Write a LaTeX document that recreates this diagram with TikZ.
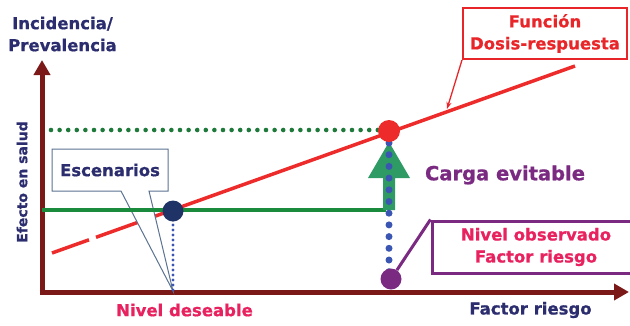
\documentclass[tikz,border=0pt]{standalone}
\usepackage{fontspec}
\setmainfont{DejaVu Sans}[BoldFeatures={FakeBold=0.8}]
\usetikzlibrary{arrows.meta,calc}

\definecolor{axisred}{HTML}{7B1818}
\definecolor{navytext}{HTML}{2B2D6E}
\definecolor{curvered}{HTML}{EE2B2B}
\definecolor{boxred}{HTML}{E8262A}
\definecolor{pinktext}{HTML}{E8215F}
\definecolor{plum}{HTML}{7B2A82}
\definecolor{levelgreen}{HTML}{1A8A3C}
\definecolor{dotgreen}{HTML}{1E7A3A}
\definecolor{arrowgreen}{HTML}{2E9A64}
\definecolor{dotblue}{HTML}{3B56B2}
\definecolor{markernavy}{HTML}{1F3366}
\definecolor{calloutedge}{HTML}{5B7391}

\tikzset{
  axisline/.style={draw=axisred, line width=5pt,
    -{Triangle[length=15pt,width=16pt]}},
  curve/.style={draw=curvered, line width=3.5pt},
  level/.style={draw=levelgreen, line width=4.5pt},
  greendots/.style={draw=dotgreen, line width=4.6pt, line cap=round,
    dash pattern=on 0pt off 8.6pt},
  bigdots/.style={draw=dotblue, line width=7pt, line cap=round,
    dash pattern=on 0pt off 11.7pt},
  smalldots/.style={draw=dotblue, line width=3.2pt, line cap=round,
    dash pattern=on 0pt off 5pt},
  marker/.style={circle, inner sep=0pt, minimum size=#1},
  label/.style={font=\bfseries\fontsize{16.5}{22}\selectfont, inner sep=0pt, align=center},
  callout/.style={draw=calloutedge, line width=1pt, fill=white},
}

\begin{document}
\begin{tikzpicture}[x=1pt, y=-1pt]
\useasboundingbox (0,0) rectangle (630,325);

% axes
\coordinate (origin) at (42,294.5);
\coordinate (ytip) at (42,60);
\coordinate (xstart) at (39.5,292);
\coordinate (xtip) at (629,292);
\draw[axisline] (origin) -- (ytip);
\draw[axisline] (xstart) -- (xtip);

% dose-response curve (dashed at its start)
\coordinate (c0) at (52,253);
\coordinate (c1) at (89,239.8);
\coordinate (c2) at (96,237.3);
\coordinate (c3) at (575,66);
\draw[curve] (c0) -- (c1);
\draw[curve] (c2) -- (c3);

% "Escenarios" callout
\coordinate (escTip) at (173,291);
\path[callout] (52,149) -- (168,149) -- (168,191) -- (149,191) -- (escTip)
  -- (121,191) -- (52,191) -- cycle;
\node[label, text=navytext] (esc) at (110,170) {Escenarios};

% desirable level and observed level
\coordinate (l0) at (42,210);
\coordinate (l1) at (386,210);
\draw[level] (l0) -- (l1);
\coordinate (g0) at (51,130);
\coordinate (g1) at (384,130);
\draw[greendots] (g0) -- (g1);

% avoidable burden arrow
\fill[arrowgreen] (383,210) -- (383,178) -- (368,178) -- (389,142)
  -- (410,178) -- (395,178) -- (395,210) -- cycle;

% projections to the risk-factor axis
\coordinate (b0) at (389,143);
\coordinate (b1) at (389,272);
\draw[bigdots] (b0) -- (b1);
\coordinate (s0) at (173,215);
\coordinate (s1) at (173,290);
\draw[smalldots] (s0) -- (s1);

% markers
\node[marker=21pt, fill=markernavy] (nc) at (173,211) {};
\node[marker=22pt, fill=curvered] (rc) at (389,131) {};
\node[marker=21pt, fill=plum] (pc) at (391,279) {};

% dose-response label box
\node[label, text=boxred, draw=boxred, line width=2pt,
  minimum width=164pt, minimum height=51pt] (fb) at (545,33.5)
  {Función\\Dosis-respuesta};
\coordinate (fTip) at (447,109);
\draw[draw=boxred, line width=1.3pt, -{Stealth[length=7pt,width=5pt]}]
  (fb.south west) -- (fTip);

% observed level label box
\node[label, text=pinktext, draw=plum, line width=3pt,
  minimum width=208pt, minimum height=52pt] (obs) at (536,247)
  {Nivel observado\\Factor riesgo};
\draw[draw=plum, line width=3pt] (obs.north west) -- (pc);

% axis and annotation texts
\node[label, text=navytext] (yl) at (62.5,34) {Incidencia/\\Prevalencia};
\node[label, text=navytext, font=\bfseries\fontsize{14}{16}\selectfont,
  rotate=90] (ys) at (22,182) {Efecto en salud};
\node[label, text=pinktext] (nd) at (184.5,310) {Nivel deseable};
\node[label, text=navytext] (xl) at (530.5,310) {Factor riesgo};
\node[label, text=plum, font=\bfseries\fontsize{19.5}{22}\selectfont]
  (ce) at (505,175) {Carga evitable};
\end{tikzpicture}
\end{document}
